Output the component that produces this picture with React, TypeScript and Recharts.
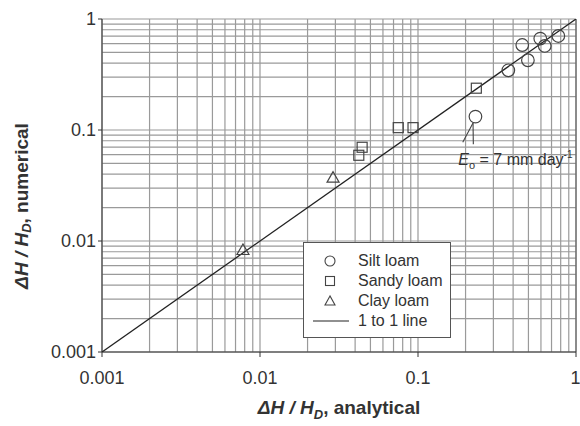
import React from 'react';
import {
  ScatterChart,
  Scatter,
  XAxis,
  YAxis,
  CartesianGrid,
  ReferenceLine,
  ReferenceDot,
} from 'recharts';

const siltX = [0.373, 0.457, 0.496, 0.594, 0.634, 0.773, 0.231];
const siltY = [0.345, 0.583, 0.425, 0.666, 0.572, 0.703, 0.132];
const sandyX = [0.0422, 0.0443, 0.075, 0.093, 0.234];
const sandyY = [0.0592, 0.0699, 0.105, 0.105, 0.238];
const clayX = [0.0078, 0.029];
const clayY = [0.0083, 0.0372];
const oneToOneX = [0.001, 1];
const oneToOneY = [0.001, 1];

const decadeTicks = [0.001, 0.01, 0.1, 1];
const gridValues = [
  0.001, 0.002, 0.003, 0.004, 0.005, 0.006, 0.007, 0.008, 0.009,
  0.01, 0.02, 0.03, 0.04, 0.05, 0.06, 0.07, 0.08, 0.09,
  0.1, 0.2, 0.3, 0.4, 0.5, 0.6, 0.7, 0.8, 0.9, 1,
];

const FONT = '"Liberation Sans", Arial, Helvetica, sans-serif';
const INK = '#333';

const toPoints = (xs: number[], ys: number[]) => xs.map((x, i) => ({ x, y: ys[i] }));

const siltData = toPoints(siltX, siltY);
const sandyData = toPoints(sandyX, sandyY);
const clayData = toPoints(clayX, clayY);
const lineData = toPoints(oneToOneX, oneToOneY);

const Circle = (p: any) => <circle cx={p.cx} cy={p.cy} r={6.3} fill="none" stroke="#444" strokeWidth={1.2} />;
const Square = (p: any) => <rect x={p.cx - 5} y={p.cy - 5} width={10} height={10} fill="none" stroke="#444" strokeWidth={1.2} />;
const Triangle = (p: any) => (
  <polygon
    points={`${p.cx},${p.cy - 6} ${p.cx - 6},${p.cy + 4.5} ${p.cx + 6},${p.cy + 4.5}`}
    fill="none"
    stroke="#444"
    strokeWidth={1.2}
  />
);

// grid lines at every 1..9 step of each decade, mapped through the axis scale
const logPos = (v: number, start: number, size: number, flip: boolean) => {
  const t = (Math.log10(v) + 3) / 3;
  return flip ? start + size * (1 - t) : start + size * t;
};

const verticalGrid = ({ xAxis, offset }: any) =>
  gridValues.map((v) =>
    xAxis && typeof xAxis.scale === 'function' ? xAxis.scale(v) : logPos(v, offset.left, offset.width, false)
  );

const horizontalGrid = ({ yAxis, offset }: any) =>
  gridValues.map((v) =>
    yAxis && typeof yAxis.scale === 'function' ? yAxis.scale(v) : logPos(v, offset.top, offset.height, true)
  );

const legendRow = (icon: React.ReactNode, label: string) => (
  <div style={{ display: 'flex', alignItems: 'center', height: 20 }}>
    <svg width={54} height={20}>{icon}</svg>
    <span>{label}</span>
  </div>
);

// legend box sits inside the plot, so it is drawn as an overlay
const LegendBox = () => (
  <div
    style={{
      position: 'absolute',
      left: 303,
      top: 242,
      boxSizing: 'border-box',
      width: 148,
      height: 96,
      border: '1px solid #555',
      background: '#fff',
      paddingTop: 8,
      fontFamily: FONT,
      fontSize: 16,
      color: INK,
      lineHeight: '20px',
    }}
  >
    {legendRow(<circle cx={26} cy={10} r={5} fill="none" stroke="#444" strokeWidth={1.1} />, 'Silt loam')}
    {legendRow(<rect x={21.5} y={5.5} width={9} height={9} fill="none" stroke="#444" strokeWidth={1.1} />, 'Sandy loam')}
    {legendRow(<polygon points="26,5 21,14 31,14" fill="none" stroke="#444" strokeWidth={1.1} />, 'Clay loam')}
    {legendRow(<line x1={9} y1={10} x2={45} y2={10} stroke="#222" strokeWidth={1.2} />, '1 to 1 line')}
  </div>
);

const xLabel = (props: any) => {
  const { x, y, width } = props.viewBox;
  return (
    <text x={x + width / 2} y={y + 62} textAnchor="middle" fontFamily={FONT} fontSize={19} fontWeight="bold" fill={INK}>
      <tspan fontStyle="italic">ΔH / H</tspan>
      <tspan fontStyle="italic" fontSize={13} dy={5}>D</tspan>
      <tspan dy={-5}>, analytical</tspan>
    </text>
  );
};

const yLabel = () => {
  const cx = 23;
  const cy = 206;
  return (
    <text
      x={cx}
      y={cy}
      transform={`rotate(-90, ${cx}, ${cy})`}
      textAnchor="middle"
      dominantBaseline="middle"
      fontFamily={FONT}
      fontSize={19}
      fontWeight="bold"
      fill={INK}
    >
      <tspan fontStyle="italic">ΔH / H</tspan>
      <tspan fontStyle="italic" fontSize={13} dy={5}>D</tspan>
      <tspan dy={-5}>, numerical</tspan>
    </text>
  );
};

const annotation = (p: any) => (
  <text x={p.cx} y={p.cy} fontFamily={FONT} fontSize={16} fill={INK}>
    <tspan fontStyle="italic">E</tspan>
    <tspan fontSize={11} dy={4}>o</tspan>
    <tspan dy={-4}> = 7 mm day</tspan>
    <tspan fontSize={10} dy={-7}>-1</tspan>
  </text>
);

const fmt = (v: number) => String(v);

export default function App() {
  return (
    <div style={{ position: 'absolute', left: 0, top: 0, width: 580, height: 426, background: '#fff' }}>
      <ScatterChart width={580} height={426} margin={{ top: 19, right: 4, bottom: 0, left: 0 }}>
        <CartesianGrid
          stroke="#9a9a9a"
          strokeWidth={1.2}
          verticalCoordinatesGenerator={verticalGrid}
          horizontalCoordinatesGenerator={horizontalGrid}
        />
        <XAxis
          type="number"
          dataKey="x"
          scale="log"
          domain={[0.001, 1]}
          ticks={decadeTicks}
          tickFormatter={fmt}
          allowDataOverflow
          height={74}
          tickSize={5}
          tickMargin={14}
          stroke={INK}
          tick={{ fill: INK, fontSize: 18, fontFamily: FONT }}
          label={{ content: xLabel }}
        />
        <YAxis
          type="number"
          dataKey="y"
          scale="log"
          domain={[0.001, 1]}
          ticks={decadeTicks}
          tickFormatter={fmt}
          allowDataOverflow
          width={102}
          tickSize={4}
          tickMargin={2}
          stroke={INK}
          tick={{ fill: INK, fontSize: 18, fontFamily: FONT }}
          label={{ content: yLabel }}
        />
        <ReferenceLine x={1} stroke="#555" strokeWidth={1} />
        <Scatter
          name="1 to 1 line"
          data={lineData}
          line={{ stroke: '#222', strokeWidth: 1.3 }}
          shape={() => <g />}
          isAnimationActive={false}
        />
        <Scatter name="Silt loam" data={siltData} shape={Circle} isAnimationActive={false} />
        <Scatter name="Sandy loam" data={sandyData} shape={Square} isAnimationActive={false} />
        <Scatter name="Clay loam" data={clayData} shape={Triangle} isAnimationActive={false} />
        <ReferenceLine
          segment={[{ x: 0.223, y: 0.1156 }, { x: 0.192, y: 0.0774 }]}
          stroke="#444"
          strokeWidth={1.1}
        />
        <ReferenceLine
          segment={[{ x: 0.223, y: 0.1156 }, { x: 0.224, y: 0.0743 }]}
          stroke="#444"
          strokeWidth={1.1}
        />
        <ReferenceDot x={0.18} y={0.0484} r={0} shape={annotation} />
      </ScatterChart>
      <LegendBox />
    </div>
  );
}
